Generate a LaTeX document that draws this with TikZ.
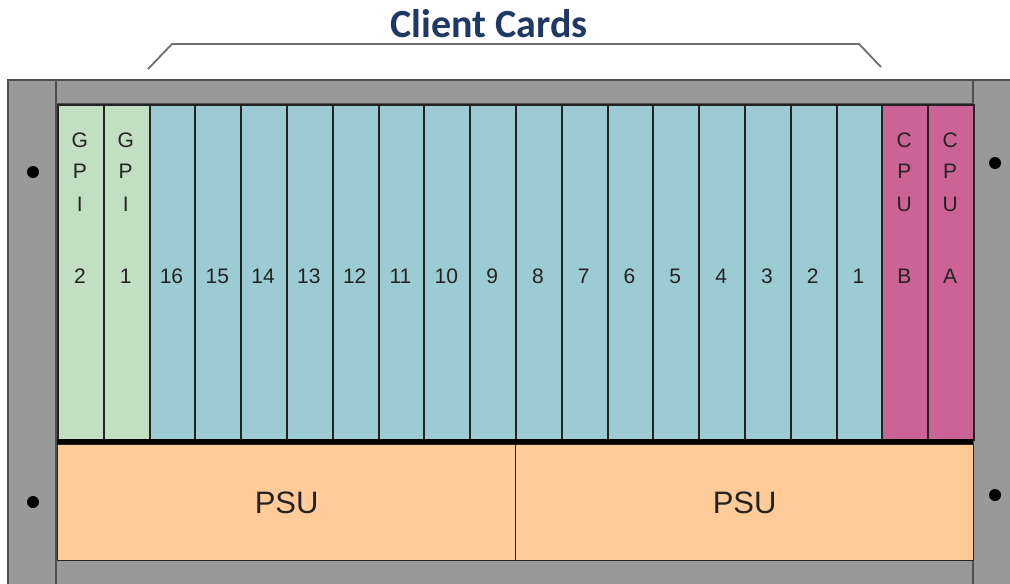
\documentclass[tikz,border=0pt]{standalone}
\usepackage{fontspec}
\setmainfont{Liberation Sans}
\newfontfamily\titlefont{Carlito}
\definecolor{railgray}{RGB}{153,153,153}
\definecolor{edgegray}{RGB}{80,80,80}
\definecolor{gpi}{RGB}{195,223,194}
\definecolor{cli}{RGB}{157,203,211}
\definecolor{cpu}{RGB}{204,99,150}
\definecolor{psucol}{RGB}{255,204,153}
\definecolor{titleblue}{RGB}{31,56,100}
\definecolor{labeltext}{RGB}{35,35,35}
\definecolor{cardline}{RGB}{35,35,35}
\definecolor{bracegray}{RGB}{110,110,110}
\begin{document}
\begin{tikzpicture}[x=1pt,y=-1pt,
  rail/.style={fill=railgray,draw=edgegray,line width=1.5pt},
  card/.style={draw=cardline,line width=1.9pt,minimum width=45.8pt,minimum height=335pt,inner sep=0pt,anchor=north west},
  lbl/.style={anchor=base,inner sep=0pt,text=labeltext,font=\fontsize{21}{21}\selectfont},
  psubox/.style={draw=cardline,line width=1.3pt,fill=psucol,minimum width=458pt,minimum height=116pt,inner sep=0pt,anchor=north west},
  psulbl/.style={inner sep=0pt,text=labeltext,font=\fontsize{31}{31}\selectfont},
  dot/.style={fill=black}]
\useasboundingbox (0,0) rectangle (1010,584);
% chassis
\path[rail] (56,80) rectangle (973,104);
\path[rail] (56,560) rectangle (973,600);
\path[rail] (8,80) rectangle (56,600);
\path[rail] (973,80) rectangle (1020,600);
% cards
\foreach \i/\n/\c in {0/2/gpi,1/1/gpi,2/16/cli,3/15/cli,4/14/cli,5/13/cli,6/12/cli,7/11/cli,8/10/cli,9/9/cli,10/8/cli,11/7/cli,12/6/cli,13/5/cli,14/4/cli,15/3/cli,16/2/cli,17/1/cli,18/B/cpu,19/A/cpu}{
  \node[card,fill=\c] (card\i) at ({57+\i*45.8},104) {};
  \node[lbl] (num\i) at ({57+(\i+0.5)*45.8},283) {\n};
}
\foreach \i/\a/\b/\d in {0/G/P/I,1/G/P/I,18/C/P/U,19/C/P/U}{
  \node[lbl] (la\i) at ({57+(\i+0.5)*45.8},147) {\a};
  \node[lbl] (lb\i) at ({57+(\i+0.5)*45.8},178) {\b};
  \node[lbl] (lc\i) at ({57+(\i+0.5)*45.8},211) {\d};
}
% PSUs
\node[psubox] (psu1) at (57,444) {};
\node[psubox] (psu2) at (515,444) {};
\node[psulbl] (psul1) at (psu1.center) {PSU};
\node[psulbl] (psul2) at (psu2.center) {PSU};
% separator bar
\draw[line width=5pt,black] (57,441.5) -- (973,441.5);
% dots
\fill[dot] (33,172) circle (6);
\fill[dot] (33,502) circle (6);
\fill[dot] (995,163) circle (6);
\fill[dot] (995,495) circle (6);
% brace and title
\draw[bracegray,line width=1.8pt] (148,69) -- (172,44) -- (859,44) -- (881,67);
\node[anchor=base,inner sep=0pt,text=titleblue,font=\titlefont\bfseries\fontsize{40}{40}\selectfont] (title) at (489,37) {Client Cards};
\end{tikzpicture}
\end{document}
